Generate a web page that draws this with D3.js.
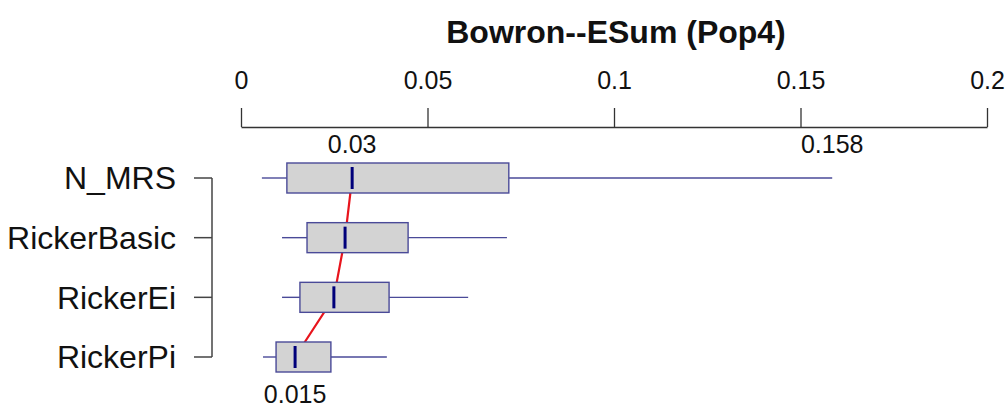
<!DOCTYPE html>
<html>
<head>
<meta charset="utf-8">
<script src="https://cdn.jsdelivr.net/npm/d3@7"></script>
<style>
  body { margin: 0; background: #fff; }
  svg { display: block; font-family: Arial, "Liberation Sans", sans-serif; }
</style>
</head>
<body>
<div id="chart"></div>
<script>
// Boxplot of ESum estimates by model (Bowron, Pop4)
const titleText = 'Bowron--ESum (Pop4)';
const models = ['N_MRS', 'RickerBasic', 'RickerEi', 'RickerPi'];
const lowWhisker = [0.0056, 0.011, 0.011, 0.0059];
const lowerQuart = [0.0123, 0.0177, 0.0158, 0.0094];
const medians = [0.0298, 0.0279, 0.0249, 0.0145];
const upperQuart = [0.0718, 0.0448, 0.0397, 0.0241];
const highWhisker = [0.1585, 0.0713, 0.0609, 0.0391];
const tickValues = [0, 0.05, 0.1, 0.15, 0.2];
const tickLabels = ['0', '0.05', '0.1', '0.15', '0.2'];
// value annotations next to the boxes
const notes = [
    { model: 0, value: 0.0298, text: '0.03', above: true },
    { model: 0, value: 0.1585, text: '0.158', above: true },
    { model: 3, value: 0.0145, text: '0.015', above: false }
];

const width = 1007, height = 408;

const svg = d3.select('#chart').append('svg')
    .attr('width', width)
    .attr('height', height);

const x = d3.scaleLinear().domain([0, 0.2]).range([241, 987]);
const y = d3.scalePoint().domain(models).range([178, 357]);

const boxHalf = 15;
const rows = models.map((m, i) => ({
    model: m,
    lo: lowWhisker[i], q1: lowerQuart[i], med: medians[i],
    q3: upperQuart[i], hi: highWhisker[i]
}));

// Title
svg.append('text')
    .attr('x', 616)
    .attr('y', 43)
    .attr('text-anchor', 'middle')
    .style('font-size', '32px')
    .style('font-weight', 'bold')
    .attr('fill', '#111')
    .text(titleText);

// Top axis
const axis = d3.axisTop(x)
    .tickValues(tickValues)
    .tickFormat((d, i) => tickLabels[i])
    .tickSize(19)
    .tickSizeOuter(0)
    .tickPadding(19);

const axisG = svg.append('g')
    .attr('transform', 'translate(0,127)')
    .call(axis);
axisG.select('.domain').attr('stroke', '#333').attr('stroke-width', 1.3);
axisG.selectAll('.tick line').attr('stroke', '#333').attr('stroke-width', 1.3);
axisG.selectAll('.tick text')
    .attr('fill', '#111')
    .style('font-size', '25px')
    .style('font-family', 'Arial, "Liberation Sans", sans-serif');

// Category bracket on the left
svg.append('line')
    .attr('x1', 212).attr('x2', 212)
    .attr('y1', y(models[0])).attr('y2', y(models[models.length - 1]))
    .attr('stroke', '#444').attr('stroke-width', 1.5);

svg.selectAll('.cat-tick')
    .data(models)
    .enter().append('line')
    .attr('class', 'cat-tick')
    .attr('x1', 194).attr('x2', 212)
    .attr('y1', d => y(d)).attr('y2', d => y(d))
    .attr('stroke', '#444').attr('stroke-width', 1.5);

svg.selectAll('.cat-label')
    .data(models)
    .enter().append('text')
    .attr('class', 'cat-label')
    .attr('x', 176)
    .attr('y', d => y(d))
    .attr('dy', '0.35em')
    .attr('text-anchor', 'end')
    .attr('fill', '#111')
    .style('font-size', '32px')
    .text(d => d);

// Red line linking medians (drawn behind boxes)
const medLine = d3.line()
    .x(d => x(d.med))
    .y(d => y(d.model));

svg.append('path')
    .datum(rows)
    .attr('d', medLine)
    .attr('fill', 'none')
    .attr('stroke', '#e8141c')
    .attr('stroke-width', 2.2);

// Boxes
const boxColor = '#4a4a98';
const g = svg.selectAll('.box')
    .data(rows)
    .enter().append('g')
    .attr('class', 'box');

g.append('line')
    .attr('x1', d => x(d.lo)).attr('x2', d => x(d.q1))
    .attr('y1', d => y(d.model)).attr('y2', d => y(d.model))
    .attr('stroke', boxColor).attr('stroke-width', 1.4);

g.append('line')
    .attr('x1', d => x(d.q3)).attr('x2', d => x(d.hi))
    .attr('y1', d => y(d.model)).attr('y2', d => y(d.model))
    .attr('stroke', boxColor).attr('stroke-width', 1.4);

g.append('rect')
    .attr('x', d => x(d.q1))
    .attr('y', d => y(d.model) - boxHalf)
    .attr('width', d => x(d.q3) - x(d.q1))
    .attr('height', boxHalf * 2)
    .attr('fill', '#d3d3d3')
    .attr('stroke', boxColor)
    .attr('stroke-width', 1.4);

g.append('line')
    .attr('x1', d => x(d.med)).attr('x2', d => x(d.med))
    .attr('y1', d => y(d.model) - 11).attr('y2', d => y(d.model) + 11)
    .attr('stroke', '#00007a').attr('stroke-width', 3);

// Value annotations
svg.selectAll('.note')
    .data(notes)
    .enter().append('text')
    .attr('class', 'note')
    .attr('x', d => x(d.value))
    .attr('y', d => d.above ? y(models[d.model]) - 25 : y(models[d.model]) + 46)
    .attr('text-anchor', 'middle')
    .attr('fill', '#111')
    .style('font-size', '25px')
    .text(d => d.text);
</script>
</body>
</html>
